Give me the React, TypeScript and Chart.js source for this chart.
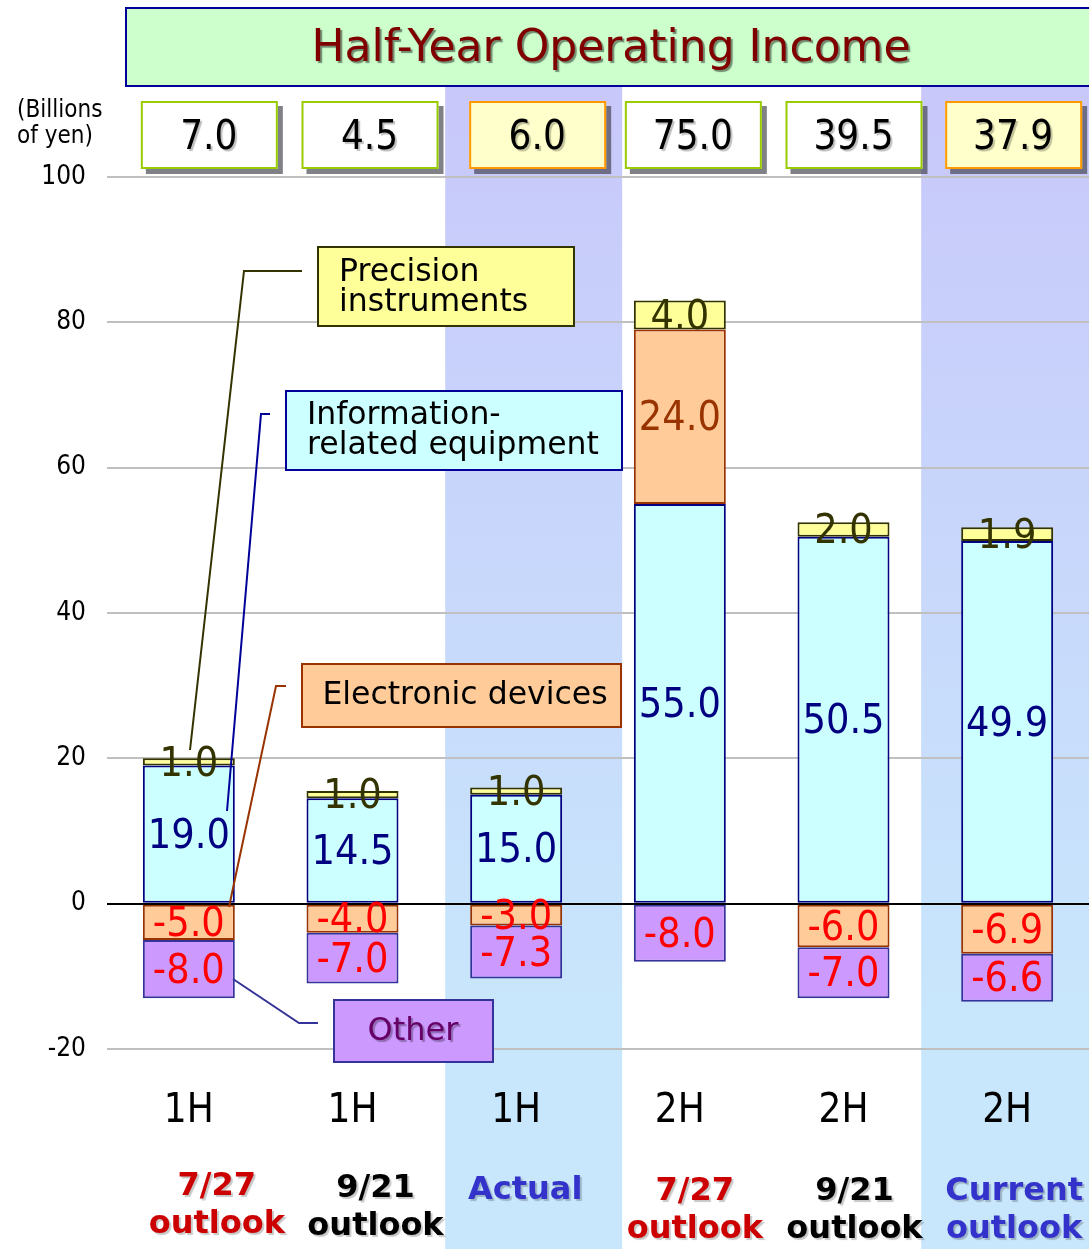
import { useEffect, useRef } from "react";
import { Chart, registerables } from "chart.js";

Chart.register(...registerables);

// Half-year segments, billions of yen
const halfYears = ["1H", "1H", "1H", "2H", "2H", "2H"];
const outlookLines = [
  ["7/27", "outlook"],
  ["9/21", "outlook"],
  ["Actual"],
  ["7/27", "outlook"],
  ["9/21", "outlook"],
  ["Current", "outlook"],
];
const outlookColors = ["#cc0000", "#000000", "#3333cc", "#cc0000", "#000000", "#3333cc"];
const infoEquipment = [19.0, 14.5, 15.0, 55.0, 50.5, 49.9];
const electronicDevices = [-5.0, -4.0, -3.0, 24.0, -6.0, -6.9];
const precisionInstruments = [1.0, 1.0, 1.0, 4.0, 2.0, 1.9];
const otherSegment = [-8.0, -7.0, -7.3, -8.0, -7.0, -6.6];
const totals = [7.0, 4.5, 6.0, 75.0, 39.5, 37.9];
const isResult = [false, false, true, false, false, true];
const yTickValues = [-20, 0, 20, 40, 60, 80, 100];

const W = 1089;
const H = 1249;
const COND = '"DejaVu Sans Condensed", "DejaVu Sans", sans-serif';
const SANS = '"DejaVu Sans", sans-serif';

function withShadow(ctx: CanvasRenderingContext2D, color: string, dx: number, dy: number, fn: () => void) {
  ctx.save();
  ctx.shadowColor = color;
  ctx.shadowOffsetX = dx;
  ctx.shadowOffsetY = dy;
  ctx.shadowBlur = 1;
  fn();
  ctx.restore();
}

const backdropPlugin = {
  id: "backdrop",
  beforeDraw(chart: any) {
    const ctx: CanvasRenderingContext2D = chart.ctx;
    const xs = chart.scales.x;
    ctx.save();
    ctx.fillStyle = "#ffffff";
    ctx.fillRect(0, 0, W, H);

    // shaded columns for the actual / current figures
    const grad = ctx.createLinearGradient(0, 87, 0, 1010);
    grad.addColorStop(0, "#c8c8fa");
    grad.addColorStop(1, "#c8e6fc");
    ctx.fillStyle = grad;
    const spans: Record<number, [number, number]> = { 2: [-71, 106], 5: [-86, 120] };
    isResult.forEach((r, i) => {
      if (!r) return;
      const c = xs.getPixelForValue(i);
      const [a, b] = spans[i] || [-82, 82];
      ctx.fillRect(c + a, 87, b - a, H - 87);
    });

    // title banner
    ctx.fillStyle = "#ccffcc";
    ctx.fillRect(125, 7, 990, 80);
    ctx.strokeStyle = "#000099";
    ctx.lineWidth = 2;
    ctx.strokeRect(126, 8, 990, 78);
    ctx.font = `44px ${SANS}`;
    ctx.textAlign = "center";
    ctx.textBaseline = "middle";
    withShadow(ctx, "rgba(0,0,0,0.45)", 2, 2, () => {
      ctx.fillStyle = "#800000";
      ctx.fillText("Half-Year Operating Income", 611, 50);
    });

    // unit label
    ctx.fillStyle = "#000000";
    ctx.textAlign = "left";
    ctx.font = `24px ${COND}`;
    ctx.fillText("(Billions", 17, 111);
    ctx.fillText("of yen)", 17, 137);
    ctx.restore();
  },
  afterDatasetsDraw(chart: any) {
    const ctx: CanvasRenderingContext2D = chart.ctx;
    const ys = chart.scales.y;
    const area = chart.chartArea;
    ctx.save();
    // zero line
    const y0 = Math.round(ys.getPixelForValue(0));
    ctx.strokeStyle = "#000000";
    ctx.lineWidth = 2;
    ctx.beginPath();
    ctx.moveTo(area.left, y0);
    ctx.lineTo(area.right, y0);
    ctx.stroke();

    // segment values
    ctx.font = `41px ${COND}`;
    ctx.textAlign = "center";
    ctx.textBaseline = "middle";
    chart.data.datasets.forEach((ds: any, di: number) => {
      const meta = chart.getDatasetMeta(di);
      meta.data.forEach((el: any, i: number) => {
        const v = ds.data[i];
        if (v === null || v === undefined) return;
        let color = ds.labelColor;
        if (v < 0) color = "#ff0000";
        ctx.fillStyle = color;
        ctx.fillText(v.toFixed(1), el.x, (el.y + el.base) / 2 + 3);
      });
    });
    ctx.restore();
  },
  afterDraw(chart: any) {
    const ctx: CanvasRenderingContext2D = chart.ctx;
    const xs = chart.scales.x;
    ctx.save();

    // totals boxes
    const boxShift = [20, 17, 21, 13, 10, 6];
    totals.forEach((t, i) => {
      const cx = xs.getPixelForValue(i) + boxShift[i];
      const left = cx - 68;
      const top = 101;
      const w = 137;
      const h = 68;
      ctx.fillStyle = "rgba(60,60,70,0.65)";
      ctx.fillRect(left + 5, top + 5, w, h);
      ctx.fillStyle = isResult[i] ? "#ffffcc" : "#ffffff";
      ctx.fillRect(left, top, w, h);
      ctx.strokeStyle = isResult[i] ? "#ff9900" : "#99cc00";
      ctx.lineWidth = 2;
      ctx.strokeRect(left + 1, top + 1, w - 2, h - 2);
      ctx.font = `40px ${COND}`;
      ctx.textAlign = "center";
      ctx.textBaseline = "middle";
      withShadow(ctx, "rgba(0,0,0,0.25)", 2, 2, () => {
        ctx.fillStyle = "#000000";
        ctx.fillText(t.toFixed(1), cx, top + h / 2 + 4);
      });
    });

    // category labels
    const labelShift = [28, 23, 9, 15, 11, 7];
    const firstRow = [1187, 1189, 1191, 1192, 1192, 1192];
    halfYears.forEach((hy, i) => {
      const c = xs.getPixelForValue(i);
      ctx.font = `40px ${COND}`;
      ctx.textAlign = "center";
      ctx.textBaseline = "middle";
      ctx.fillStyle = "#000000";
      ctx.fillText(hy, c, 1112);
      ctx.font = `bold 32px ${SANS}`;
      outlookLines[i].forEach((line, li) => {
        withShadow(ctx, "rgba(0,0,0,0.22)", 2, 2, () => {
          ctx.fillStyle = outlookColors[i];
          ctx.fillText(line, c + labelShift[i], firstRow[i] + li * 38);
        });
      });
    });

    // leader lines
    const leader = (pts: number[][], color: string) => {
      ctx.strokeStyle = color;
      ctx.lineWidth = 2;
      ctx.beginPath();
      pts.forEach(([x, y], k) => (k === 0 ? ctx.moveTo(x, y) : ctx.lineTo(x, y)));
      ctx.stroke();
    };
    leader([[302, 271], [244, 271], [190, 750]], "#333300");
    leader([[270, 414], [261, 414], [227, 811]], "#000099");
    leader([[286, 686], [276, 686], [229, 907]], "#993300");
    leader([[233, 979], [299, 1023], [318, 1023]], "#333399");

    // callout boxes
    const box = (x: number, y: number, w: number, h: number, fill: string, stroke: string) => {
      ctx.fillStyle = fill;
      ctx.fillRect(x, y, w, h);
      ctx.strokeStyle = stroke;
      ctx.lineWidth = 2;
      ctx.strokeRect(x + 1, y + 1, w - 2, h - 2);
    };
    ctx.font = `31.5px ${SANS}`;
    ctx.textBaseline = "middle";

    box(317, 246, 258, 81, "#ffff99", "#333300");
    ctx.textAlign = "left";
    ctx.fillStyle = "#000000";
    ctx.fillText("Precision", 339, 273);
    ctx.fillText("instruments", 339, 303);

    box(285, 390, 338, 81, "#ccffff", "#000099");
    ctx.fillStyle = "#000000";
    ctx.fillText("Information-", 307, 416);
    ctx.fillText("related equipment", 307, 446);

    box(301, 663, 321, 65, "#ffcc99", "#993300");
    ctx.textAlign = "center";
    ctx.fillStyle = "#000000";
    ctx.fillText("Electronic devices", 465, 696);

    box(333, 999, 161, 64, "#cc99ff", "#333399");
    ctx.font = `32px ${SANS}`;
    withShadow(ctx, "rgba(0,0,0,0.3)", 2, 2, () => {
      ctx.fillStyle = "#660066";
      ctx.fillText("Other", 413, 1032);
    });

    ctx.restore();
  },
};

export default function App() {
  const canvasRef = useRef<HTMLCanvasElement | null>(null);

  useEffect(() => {
    const canvas = canvasRef.current;
    if (!canvas) return;
    const common = { borderWidth: 2, borderSkipped: false, barPercentage: 0.562, categoryPercentage: 1 };
    const chart = new Chart(canvas, {
      type: "bar",
      data: {
        labels: halfYears,
        datasets: [
          { label: "Information-related equipment", data: infoEquipment, backgroundColor: "#ccffff", borderColor: "#000080", labelColor: "#000080", ...common },
          { label: "Electronic devices", data: electronicDevices, backgroundColor: "#ffcc99", borderColor: "#993300", labelColor: "#993300", ...common },
          { label: "Precision instruments", data: precisionInstruments, backgroundColor: "#ffff99", borderColor: "#333300", labelColor: "#333300", ...common },
          { label: "Other", data: otherSegment, backgroundColor: "#cc99ff", borderColor: "#333399", labelColor: "#ff0000", ...common },
        ] as any,
      },
      options: {
        responsive: false,
        animation: false,
        layout: { padding: { top: 177, bottom: 200, left: 0, right: 0 } },
        plugins: { legend: { display: false }, tooltip: { enabled: false } },
        scales: {
          x: { stacked: true, display: false },
          y: {
            stacked: true,
            min: -20,
            max: 100,
            afterFit: (s: any) => {
              s.width = 107;
            },
            afterBuildTicks: (s: any) => {
              s.ticks = yTickValues.map((v) => ({ value: v }));
            },
            grid: {
              color: (c: any) => (c.tick && c.tick.value === 0 ? "rgba(0,0,0,0)" : "#c0c0c0"),
              lineWidth: 2,
              drawTicks: false,
            },
            border: { display: false },
            ticks: { padding: 21, color: "#000000", font: { family: COND, size: 26 } },
          },
        },
      } as any,
      plugins: [backdropPlugin],
    });
    return () => chart.destroy();
  }, []);

  return (
    <div style={{ position: "absolute", left: 0, top: 0, width: W, height: H }}>
      <canvas ref={canvasRef} width={W} height={H} style={{ display: "block" }} />
    </div>
  );
}
